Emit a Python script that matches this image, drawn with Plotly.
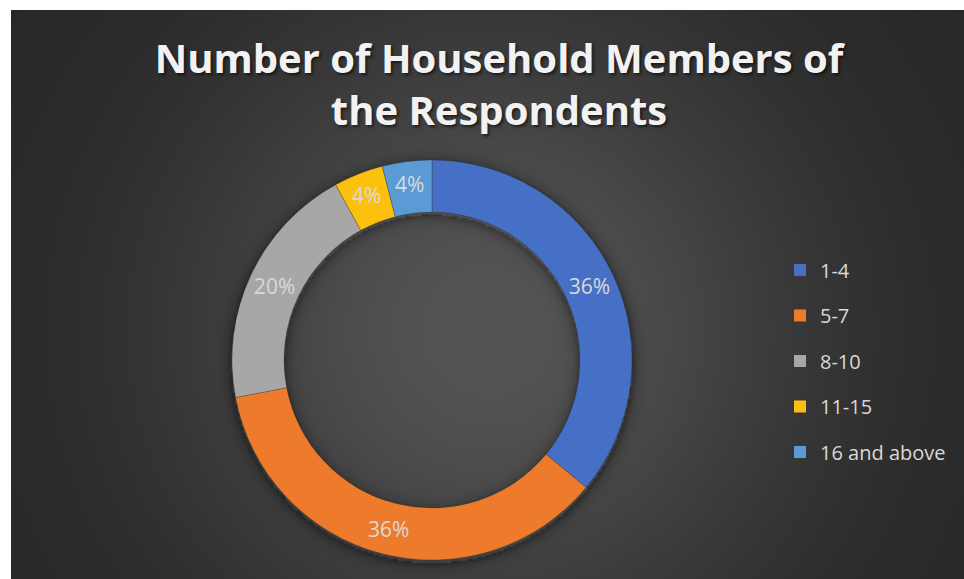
import base64
import struct
import zlib

import numpy as np
import plotly.graph_objects as go

# ---- data -------------------------------------------------------------
groups = ["1-4", "5-7", "8-10", "11-15", "16 and above"]
shares = [36, 36, 20, 4, 4]
colors = ["#4670c6", "#ee7b2c", "#a7a7a7", "#fcc10f", "#5b9bd5"]
title_text = "Number of Household Members of<br>the Respondents"

W, H = 964, 579

# ---- background: dark radial gradient with a soft ring shadow ----------
BG_X0, BG_Y0 = 11, 10          # dark panel starts here (page is white around it)
BG_W, BG_H = W - BG_X0, H - BG_Y0
DONUT_CX, DONUT_CY = 432, 360
R_OUT, R_IN = 200, 148


def png_data_uri(rgb):
    h, w, _ = rgb.shape
    raw = b"".join(b"\x00" + rgb[r].tobytes() for r in range(h))

    def chunk(tag, data):
        c = struct.pack(">I", len(data)) + tag + data
        return c + struct.pack(">I", zlib.crc32(tag + data) & 0xFFFFFFFF)

    png = b"\x89PNG\r\n\x1a\n"
    png += chunk(b"IHDR", struct.pack(">IIBBBBB", w, h, 8, 2, 0, 0, 0))
    png += chunk(b"IDAT", zlib.compress(raw, 9))
    png += chunk(b"IEND", b"")
    return "data:image/png;base64," + base64.b64encode(png).decode()


scale = 2
iw, ih = BG_W // scale, BG_H // scale
xs = BG_X0 + (np.arange(iw) + 0.5) * BG_W / iw
ys = BG_Y0 + (np.arange(ih) + 0.5) * BG_H / ih
X, Y = np.meshgrid(xs, ys)

d = np.hypot(X - 490, Y - 330)
val = 38 + 47 * np.exp(-(d / 320.0) ** 2)

# shadow just outside the ring and along the inner edge of the hole
rs = np.hypot(X - DONUT_CX, Y - (DONUT_CY + 3))
outer = np.where(rs > R_OUT, 0.45 * np.exp(-(rs - R_OUT) / 5.0), 0.0)
inner = np.where(rs < R_IN, 0.35 * np.exp(-(R_IN - rs) / 5.0), 0.0)
val = val * (1 - np.clip(outer + inner, 0, 0.6))

img = np.clip(val, 0, 255).astype(np.uint8)
img = np.repeat(img[:, :, None], 3, axis=2)
bg_uri = png_data_uri(img)

# ---- figure -----------------------------------------------------------
fig = go.Figure()

fig.add_trace(
    go.Pie(
        labels=groups,
        values=shares,
        hole=R_IN / R_OUT,
        sort=False,
        direction="clockwise",
        rotation=0,
        marker=dict(colors=colors, line=dict(color="rgba(40,40,40,0.35)", width=0.8)),
        texttemplate="%{percent:.0%}",
        textposition="inside",
        insidetextorientation="horizontal",
        textfont=dict(family="Open Sans", size=21, color="#d9d9d9"),
        showlegend=False,
        hoverinfo="label+percent",
        domain=dict(
            x=[(DONUT_CX - R_OUT) / W, (DONUT_CX + R_OUT) / W],
            y=[1 - (DONUT_CY + R_OUT) / H, 1 - (DONUT_CY - R_OUT) / H],
        ),
    )
)

# legend entries, one group each so they can be spaced apart
for i, (g, c) in enumerate(zip(groups, colors)):
    fig.add_trace(
        go.Scatter(
            x=[None], y=[None], mode="markers", name=g,
            legendgroup=f"g{i}",
            marker=dict(symbol="square", size=12, color=c),
            hoverinfo="skip",
        )
    )

fig.update_layout(
    width=W,
    height=H,
    margin=dict(l=0, r=0, t=0, b=0),
    paper_bgcolor="white",
    plot_bgcolor="rgba(0,0,0,0)",
    xaxis=dict(visible=False, domain=[0.9, 0.95]),
    yaxis=dict(visible=False, domain=[0.9, 0.95]),
    title=dict(
        text=title_text,
        x=499 / W,
        xanchor="center",
        y=1 - 73 / H,
        yanchor="top",
        font=dict(family="Open Sans", size=40, color="#f2f2f2", weight="bold",
                  shadow="2px 2px 3px rgba(0,0,0,0.55)"),
    ),
    legend=dict(
        x=780 / W,
        xanchor="left",
        y=1 - 361 / H,
        yanchor="middle",
        font=dict(family="Open Sans", size=20, color="#d9d9d9"),
        tracegroupgap=16.5,
        bgcolor="rgba(0,0,0,0)",
        itemsizing="constant",
    ),
    images=[
        dict(
            source=bg_uri,
            xref="paper", yref="paper",
            x=BG_X0 / W, y=1 - BG_Y0 / H,
            sizex=BG_W / W, sizey=BG_H / H,
            xanchor="left", yanchor="top",
            sizing="stretch",
            layer="below",
        )
    ],
)

fig.write_html("out.html")
